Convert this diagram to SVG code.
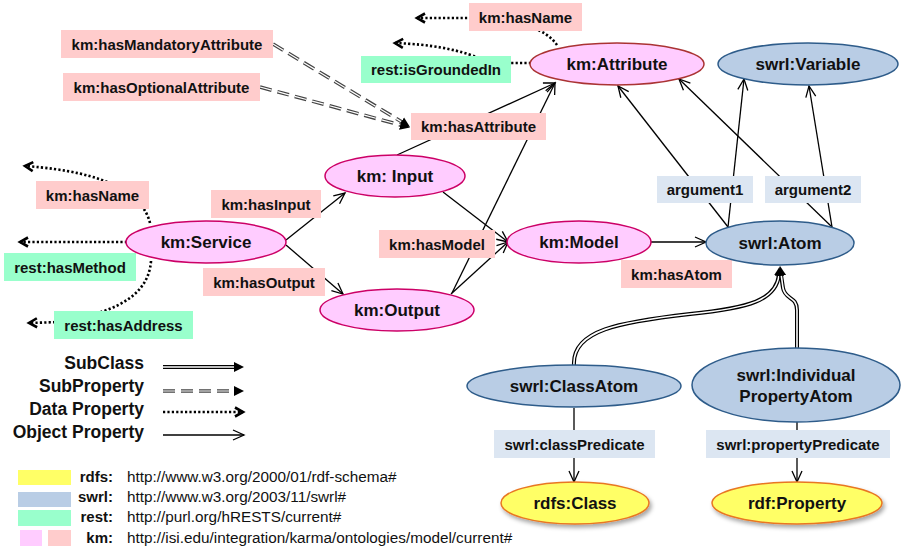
<svg xmlns="http://www.w3.org/2000/svg" width="901" height="552" viewBox="0 0 901 552">
<style>
text{font-family:"Liberation Sans",Arial,sans-serif;font-weight:bold;fill:#111;}
.nt{font-size:17px;text-anchor:middle;}
.lt{font-size:15px;text-anchor:middle;}
.lg{font-size:17.5px;text-anchor:end;}
.px{font-size:15px;text-anchor:end;}
.url{font-size:15.3px;font-weight:normal;}
.km{fill:#FFCCFF;stroke:#CC0066;stroke-width:1.5;}
.sw{fill:#B9CDE5;stroke:#2E5C8A;stroke-width:1.5;}
.rd{fill:#FFFF66;stroke:#E87722;stroke-width:1.5;}
.lk{fill:#FFCCCC;}
.lr{fill:#99FFCC;}
.lb{fill:#DCE6F2;}
.obj{fill:none;stroke:#000;stroke-width:1.3;marker-end:url(#ao);}
.dat{fill:none;stroke:#000;stroke-width:2.6;stroke-dasharray:2.2 2.2;marker-end:url(#ad);}
.spo{fill:none;stroke:#444;stroke-width:3.6;stroke-dasharray:12 6;}
.spi{fill:none;stroke:#fff;stroke-width:1.2;stroke-dasharray:12 6;marker-end:url(#af);}
.sco{fill:none;stroke:#000;stroke-width:4;}
.sci{fill:none;stroke:#fff;stroke-width:1.6;marker-end:url(#af);}
</style>
<defs>
<marker id="ao" markerUnits="userSpaceOnUse" markerWidth="14" markerHeight="14" refX="12" refY="6" orient="auto" viewBox="0 0 14 12">
<path d="M1,1 L12,6 L1,11" fill="none" stroke="#000" stroke-width="1.3"/>
</marker>
<marker id="ad" markerUnits="userSpaceOnUse" markerWidth="14" markerHeight="14" refX="10" refY="6" orient="auto" viewBox="0 0 14 12">
<path d="M2,1.5 L10,6 L2,10.5" fill="none" stroke="#000" stroke-width="2.6"/>
</marker>
<marker id="af" markerUnits="userSpaceOnUse" markerWidth="12" markerHeight="12" refX="10" refY="5" orient="auto" viewBox="0 0 12 10">
<path d="M0,0 L10,5 L0,10 Z" fill="#000"/>
</marker>
<filter id="sh" x="-20%" y="-20%" width="140%" height="160%">
<feDropShadow dx="2" dy="3" stdDeviation="2" flood-color="#000" flood-opacity="0.35"/>
</filter>
</defs>
<rect width="901" height="552" fill="#fff"/>

<g id="connectors">
<!-- sub property -->
<path class="spo" d="M273 44 L402 122"/>
<path class="spi" d="M273 44 L410 127"/>
<path class="spo" d="M260 87 L402 125.5"/>
<path class="spi" d="M260 87 L410 127.5"/>
<!-- data properties -->
<path class="dat" d="M557 45 C545 28 520 20 469 18 L417 18"/>
<path class="dat" d="M531 63 L500 63 C480 63 470 46 395 43"/>
<path class="dat" d="M150 223 C143 195 110 172 25 166"/>
<path class="dat" d="M127 242 L20 242"/>
<path class="dat" d="M151 261 C148 305 95 315 60 322 L29 323"/>
<!-- object properties -->
<path class="obj" d="M286 240 L345 193"/>
<path class="obj" d="M286 245 L343 294"/>
<path class="obj" d="M443 192 L508 242"/>
<path class="obj" d="M451 294 L508 242"/>
<path class="obj" d="M397 155 L555 83"/>
<path class="obj" d="M452 293 L555 83"/>
<path class="obj" d="M651 242 L706 242"/>
<path class="obj" d="M728 227 L618 86"/>
<path class="obj" d="M832 227 L679 79"/>
<path class="obj" d="M728 227 L744 79"/>
<path class="obj" d="M832 227 L809 86"/>
<path class="obj" d="M574 408 L574 482"/>
<path class="obj" d="M797 422 L797 482"/>
<!-- sub class -->
<path class="sco" d="M574 365 C572 330 620 322 690 314 C750 308 776 300 779 275"/>
<path class="sci" d="M574 365 C572 330 620 322 690 314 C750 308 776 300 779 275 L780 266"/>
<path class="sco" d="M797 348 L797 310 C797 296 785 300 783 288 L781 275"/>
<path class="sci" d="M797 348 L797 310 C797 296 785 300 783 288 L780 266"/>
</g>

<g id="labels">
<g id="l-hasName-attr"><rect class="lk" x="469" y="3" width="113" height="28"/><text class="lt" x="525.5" y="22.5">km:hasName</text></g>
<g id="l-isGroundedIn"><rect class="lr" x="361" y="56" width="150" height="27"/><text class="lt" x="436" y="75">rest:isGroundedIn</text></g>
<g id="l-hasAttribute"><rect class="lk" x="411" y="113" width="135" height="27"/><text class="lt" x="478.5" y="132">km:hasAttribute</text></g>
<g id="l-hasMandatory"><rect class="lk" x="61" y="30" width="212" height="28"/><text class="lt" x="167" y="49.5">km:hasMandatoryAttribute</text></g>
<g id="l-hasOptional"><rect class="lk" x="63" y="73" width="197" height="28"/><text class="lt" x="161.5" y="92.5">km:hasOptionalAttribute</text></g>
<g id="l-hasName-svc"><rect class="lk" x="36" y="181" width="113" height="28"/><text class="lt" x="92.5" y="200.5">km:hasName</text></g>
<g id="l-hasMethod"><rect class="lr" x="4" y="253" width="132" height="28"/><text class="lt" x="70" y="272.5">rest:hasMethod</text></g>
<g id="l-hasAddress"><rect class="lr" x="54" y="311" width="139" height="28"/><text class="lt" x="123.5" y="330.5">rest:hasAddress</text></g>
<g id="l-hasInput"><rect class="lk" x="211" y="190" width="110" height="28"/><text class="lt" x="266" y="209.5">km:hasInput</text></g>
<g id="l-hasOutput"><rect class="lk" x="203" y="268" width="122" height="28"/><text class="lt" x="264" y="287.5">km:hasOutput</text></g>
<g id="l-hasModel"><rect class="lk" x="379" y="230" width="116" height="28"/><text class="lt" x="437" y="249.5">km:hasModel</text></g>
<g id="l-hasAtom"><rect class="lk" x="621" y="260" width="111" height="28"/><text class="lt" x="676.5" y="279.5">km:hasAtom</text></g>
<g id="l-argument1"><rect class="lb" x="657" y="176" width="96" height="27"/><text class="lt" x="705" y="195">argument1</text></g>
<g id="l-argument2"><rect class="lb" x="765" y="176" width="96" height="27"/><text class="lt" x="813" y="195">argument2</text></g>
<g id="l-classPredicate"><rect class="lb" x="494" y="430" width="161" height="28"/><text class="lt" x="574.5" y="449.5">swrl:classPredicate</text></g>
<g id="l-propertyPredicate"><rect class="lb" x="706" y="430" width="184" height="28"/><text class="lt" x="798" y="449.5">swrl:propertyPredicate</text></g>
</g>

<g id="n-attribute"><ellipse cx="617" cy="64" rx="87" ry="21" fill="#FFCCFF" stroke="#A33" stroke-width="1.5"/><text class="nt" x="617" y="70">km:Attribute</text></g>
<g id="n-variable"><ellipse class="sw" cx="808" cy="64" rx="90" ry="21"/><text class="nt" x="808" y="70">swrl:Variable</text></g>
<g id="n-service"><ellipse class="km" cx="206" cy="242" rx="80" ry="21"/><text class="nt" x="206" y="248">km:Service</text></g>
<g id="n-input"><ellipse class="km" cx="395" cy="176" rx="70" ry="21"/><text class="nt" x="395" y="182">km: Input</text></g>
<g id="n-output"><ellipse class="km" cx="397" cy="310" rx="77" ry="21"/><text class="nt" x="397" y="316">km:Output</text></g>
<g id="n-model"><ellipse class="km" cx="579" cy="242" rx="72" ry="21"/><text class="nt" x="579" y="248">km:Model</text></g>
<g id="n-atom"><ellipse class="sw" cx="780" cy="243" rx="74" ry="22"/><text class="nt" x="780" y="249">swrl:Atom</text></g>
<g id="n-classatom"><ellipse class="sw" cx="574" cy="386" rx="107" ry="21"/><text class="nt" x="574" y="392">swrl:ClassAtom</text></g>
<g id="n-ipatom"><ellipse class="sw" cx="796" cy="385" rx="104" ry="37"/><text class="nt" x="796" y="381">swrl:Individual</text><text class="nt" x="796" y="402">PropertyAtom</text></g>
<g id="n-rdfsclass"><ellipse class="rd" cx="575" cy="503" rx="74" ry="21" filter="url(#sh)"/><text class="nt" x="575" y="509">rdfs:Class</text></g>
<g id="n-rdfproperty"><ellipse class="rd" cx="797" cy="503" rx="85" ry="21" filter="url(#sh)"/><text class="nt" x="797" y="509">rdf:Property</text></g>

<g id="legend-lines">
<text class="lg" x="144" y="369">SubClass</text>
<text class="lg" x="144" y="392">SubProperty</text>
<text class="lg" x="144" y="415">Data Property</text>
<text class="lg" x="144" y="438">Object Property</text>
<path class="sco" d="M163 367 L236 367"/>
<path class="sci" d="M163 367 L244 367"/>
<path class="spo" d="M163 391 L236 391" stroke-dasharray="11 7"/>
<path class="spi" d="M163 391 L244 391" stroke-dasharray="11 7"/>
<path class="dat" d="M163 412 L243 412"/>
<path class="obj" d="M163 435 L244 435"/>
</g>

<g id="legend-ns">
<rect x="18" y="470" width="53" height="15" fill="#FFFF66"/>
<rect x="18" y="492" width="53" height="15" fill="#B9CDE5"/>
<rect x="18" y="510" width="53" height="16" fill="#99FFCC"/>
<rect x="20" y="530" width="22" height="16" fill="#FFCCFF"/>
<rect x="48" y="530" width="23" height="16" fill="#FFCCCC"/>
<text class="px" x="113" y="482">rdfs:</text>
<text class="px" x="113" y="502">swrl:</text>
<text class="px" x="113" y="522">rest:</text>
<text class="px" x="113" y="543">km:</text>
<text class="url" x="127" y="482">http://www.w3.org/2000/01/rdf-schema#</text>
<text class="url" x="127" y="502">http://www.w3.org/2003/11/swrl#</text>
<text class="url" x="127" y="522">http://purl.org/hRESTS/current#</text>
<text class="url" x="127" y="543">http://isi.edu/integration/karma/ontologies/model/current#</text>
</g>
</svg>
